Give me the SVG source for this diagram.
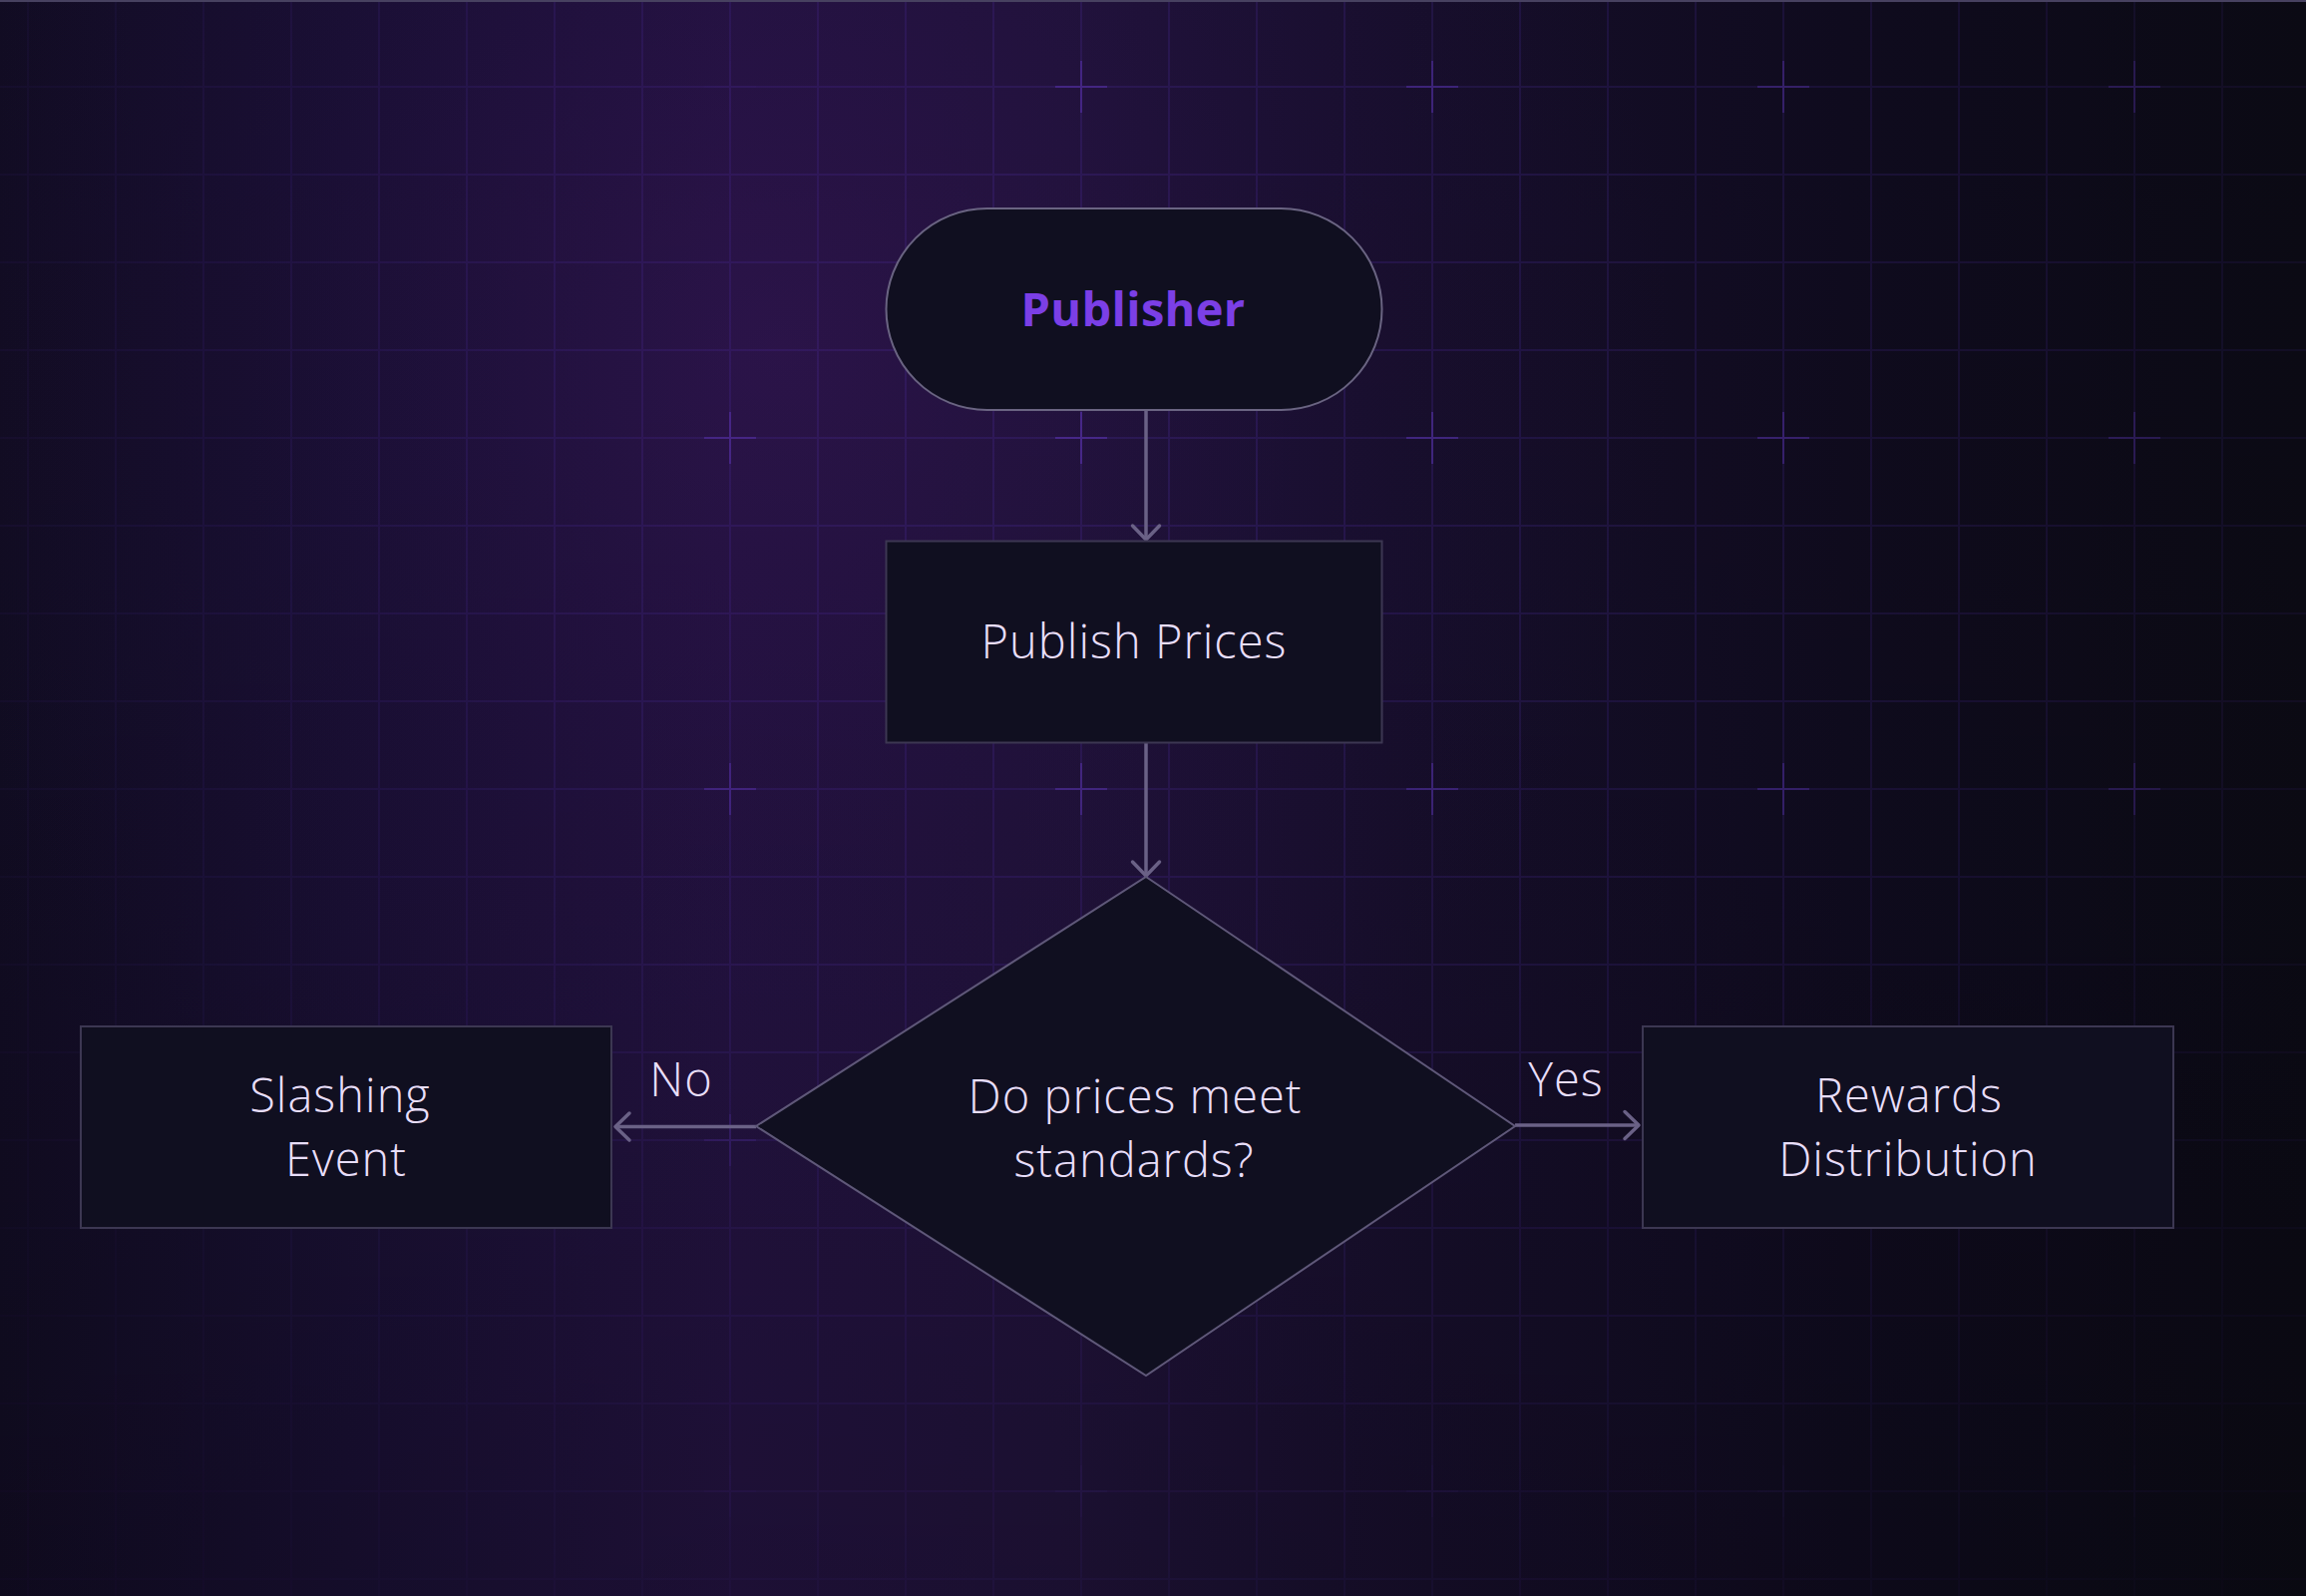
<svg xmlns="http://www.w3.org/2000/svg" width="2312" height="1600" viewBox="0 0 2312 1600">
  <defs>
    <style>
      .node { fill: #100f20; stroke: #3c3752; stroke-width: 2; }
      .term { fill: #100f20; stroke: #6a6482; stroke-width: 2; }
      .dec { fill: #100f20; stroke: #5f5879; stroke-width: 2; }
      .lbl { font-family: "Open Sans", "Noto Sans", "Liberation Sans", sans-serif; font-size: 47px; font-weight: 300; letter-spacing: 1px; fill: #e8def9; text-anchor: middle; }
      .title { font-family: "Open Sans", "Noto Sans", "Liberation Sans", sans-serif; font-size: 47px; font-weight: 700; letter-spacing: 0.3px; fill: #7b3fe6; text-anchor: middle; }
      .edge { fill: none; stroke: #6a6186; stroke-width: 3.5; }
    </style>
    <linearGradient id="bgH" gradientUnits="userSpaceOnUse" x1="0" y1="0" x2="2312" y2="0">
      <stop offset="0" stop-color="#110c22"/>
      <stop offset="0.15" stop-color="#180f31"/>
      <stop offset="0.32" stop-color="#22123e"/>
      <stop offset="0.46" stop-color="#1f1238"/>
      <stop offset="0.62" stop-color="#160e2a"/>
      <stop offset="0.8" stop-color="#0f0b1e"/>
      <stop offset="1" stop-color="#0b0a14"/>
    </linearGradient>
    <radialGradient id="glow" gradientUnits="userSpaceOnUse" cx="780" cy="350" r="900">
      <stop offset="0" stop-color="#3e1660" stop-opacity="0.35"/>
      <stop offset="0.6" stop-color="#2a1050" stop-opacity="0.12"/>
      <stop offset="1" stop-color="#2a1050" stop-opacity="0"/>
    </radialGradient>
    <linearGradient id="bgV" gradientUnits="userSpaceOnUse" x1="0" y1="0" x2="0" y2="1600">
      <stop offset="0" stop-color="#000" stop-opacity="0"/>
      <stop offset="0.6" stop-color="#000" stop-opacity="0.05"/>
      <stop offset="1" stop-color="#000" stop-opacity="0.15"/>
    </linearGradient>
    <pattern id="grid" patternUnits="userSpaceOnUse" x="27" y="-2" width="88" height="88">
      <path d="M0 0 H88 M0 0 V88" fill="none" stroke="#6a3de0" stroke-opacity="0.16" stroke-width="4"/>
    </pattern>
    <pattern id="plus" patternUnits="userSpaceOnUse" x="2" y="61" width="352" height="352">
      <path d="M0 26 H52 M26 0 V52" fill="none" stroke="#7a48f0" stroke-opacity="0.35" stroke-width="2"/>
    </pattern>
    <radialGradient id="fadeR" gradientUnits="userSpaceOnUse" cx="1250" cy="400" r="1500">
      <stop offset="0" stop-color="#fff" stop-opacity="1"/>
      <stop offset="0.5" stop-color="#fff" stop-opacity="0.75"/>
      <stop offset="0.85" stop-color="#fff" stop-opacity="0.3"/>
      <stop offset="1" stop-color="#fff" stop-opacity="0.15"/>
    </radialGradient>
    <linearGradient id="plusH" gradientUnits="userSpaceOnUse" x1="0" y1="0" x2="2312" y2="0">
      <stop offset="0" stop-color="#000"/>
      <stop offset="0.2" stop-color="#000"/>
      <stop offset="0.3" stop-color="#fff"/>
      <stop offset="1" stop-color="#fff"/>
    </linearGradient>
    <linearGradient id="plusV" gradientUnits="userSpaceOnUse" x1="0" y1="0" x2="0" y2="1600">
      <stop offset="0" stop-color="#000" stop-opacity="0"/>
      <stop offset="0.5" stop-color="#000" stop-opacity="0"/>
      <stop offset="0.9" stop-color="#000" stop-opacity="0.75"/>
      <stop offset="1" stop-color="#000" stop-opacity="0.8"/>
    </linearGradient>
    <radialGradient id="plusCorner" gradientUnits="userSpaceOnUse" cx="600" cy="0" r="260">
      <stop offset="0" stop-color="#000" stop-opacity="1"/>
      <stop offset="0.7" stop-color="#000" stop-opacity="0.9"/>
      <stop offset="1" stop-color="#000" stop-opacity="0"/>
    </radialGradient>
    <mask id="gridMask" maskUnits="userSpaceOnUse" x="0" y="0" width="2312" height="1600">
      <rect x="0" y="0" width="2312" height="1600" fill="url(#fadeR)"/>
    </mask>
    <mask id="plusMask" maskUnits="userSpaceOnUse" x="0" y="0" width="2312" height="1600">
      <rect x="0" y="0" width="2312" height="1600" fill="url(#plusH)"/>
      <rect x="0" y="0" width="2312" height="1600" fill="url(#plusV)"/>
      <rect x="0" y="0" width="2312" height="1600" fill="url(#plusCorner)"/>
    </mask>
    <marker id="arrow" viewBox="-20 -20 24 40" refX="0" refY="0" markerWidth="24" markerHeight="40" markerUnits="userSpaceOnUse" orient="auto">
      <path d="M-14 -13.5 L0 0 L-14 13.5" fill="none" stroke="#6a6186" stroke-width="3.5" stroke-linecap="round" stroke-linejoin="round"/>
    </marker>
  </defs>

  <g id="background">
    <rect x="0" y="0" width="2312" height="1600" fill="url(#bgH)"/>
    <rect x="0" y="0" width="2312" height="1600" fill="url(#glow)"/>
    <rect x="0" y="0" width="2312" height="1600" fill="url(#bgV)"/>
    <g mask="url(#gridMask)">
      <rect x="0" y="0" width="2312" height="1600" fill="url(#grid)"/>
      <g mask="url(#plusMask)">
        <rect x="0" y="0" width="2312" height="1600" fill="url(#plus)"/>
      </g>
    </g>
    <rect x="0" y="0" width="2312" height="2" fill="#474160"/>
  </g>

  <g id="connectors">
    <line class="edge" x1="1149" y1="411" x2="1149" y2="541" marker-end="url(#arrow)"/>
    <line class="edge" x1="1149" y1="745" x2="1149" y2="878" marker-end="url(#arrow)"/>
    <line class="edge" x1="758" y1="1129.5" x2="617" y2="1129.5" marker-end="url(#arrow)"/>
    <line class="edge" x1="1519" y1="1128" x2="1643" y2="1128" marker-end="url(#arrow)"/>
    <text class="lbl" x="683" y="1099">No</text>
    <text class="lbl" x="1570" y="1099">Yes</text>
  </g>

  <g id="node-publisher">
    <rect class="term" x="888.5" y="209" width="497" height="202" rx="101" ry="101"/>
    <text class="title" x="1136" y="327">Publisher</text>
  </g>

  <g id="node-publish-prices">
    <rect class="node" x="888.5" y="542.5" width="497" height="202"/>
    <text class="lbl" x="1137" y="660">Publish Prices</text>
  </g>

  <g id="node-decision">
    <polygon class="dec" points="1149,879 1519,1129 1149,1379 758,1129"/>
    <text class="lbl" x="1138" y="1116">Do prices meet</text>
    <text class="lbl" x="1137" y="1180">standards?</text>
  </g>

  <g id="node-slashing">
    <rect class="node" x="81" y="1029" width="532" height="202"/>
    <text class="lbl" x="341" y="1115">Slashing</text>
    <text class="lbl" x="347" y="1179">Event</text>
  </g>

  <g id="node-rewards">
    <rect class="node" x="1647" y="1029" width="532" height="202"/>
    <text class="lbl" x="1914" y="1115">Rewards</text>
    <text class="lbl" x="1913" y="1179">Distribution</text>
  </g>
</svg>
